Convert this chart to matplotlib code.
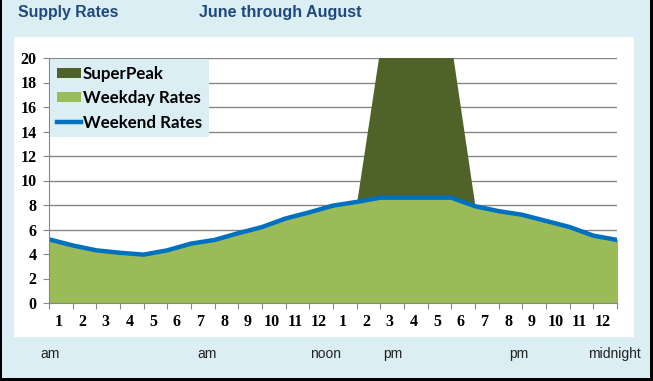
import matplotlib
matplotlib.use('Agg')
import matplotlib.pyplot as plt
from matplotlib.patches import Rectangle, Patch
from matplotlib.lines import Line2D

W, H = 653, 381
BG = '#dbeef4'
NAVY = '#1f497d'

# data: 25 hourly points (start of hour 1 am ... midnight)
hours = list(range(25))
weekday = [5.2, 4.7, 4.3, 4.1, 3.95, 4.3, 4.85, 5.15, 5.7, 6.2, 6.9, 7.4, 7.95,
           8.25, 8.6, 8.6, 8.6, 8.6, 7.9, 7.5, 7.2, 6.7, 6.2, 5.5, 5.15]
weekend = [5.2, 4.7, 4.3, 4.1, 3.95, 4.3, 4.85, 5.15, 5.7, 6.2, 6.9, 7.4, 7.95,
           8.25, 8.6, 8.6, 8.6, 8.6, 7.9, 7.5, 7.2, 6.7, 6.2, 5.5, 5.15]
superpeak = [5.2, 4.7, 4.3, 4.1, 3.95, 4.3, 4.85, 5.15, 5.7, 6.2, 6.9, 7.4, 7.95,
             8.25, 21, 21, 21, 21, 7.9, 7.5, 7.2, 6.7, 6.2, 5.5, 5.15]
hour_labels = [str(h) for h in range(1, 13)] * 2
period_labels = [('am', 50), ('am', 207), ('noon', 326), ('pm', 393), ('pm', 519), ('midnight', 614)]

def fx(px):
    return px / W

def fy(py):
    return 1 - py / H

fig = plt.figure(figsize=(W / 100, H / 100), dpi=100, facecolor=BG)

# white chart panel as a background axes
bg = fig.add_axes([fx(14), fy(337), fx(634) - fx(14), fy(37) - fy(337)], zorder=0)
bg.set_facecolor('white')
bg.set_xticks([]); bg.set_yticks([])
for s in bg.spines.values():
    s.set_visible(False)

# screenshot frame / shadow
fig.patches.append(Rectangle((0, 0), fx(2), 1, transform=fig.transFigure, fc='black', ec='none'))
fig.patches.append(Rectangle((fx(650), 0), fx(3), 1, transform=fig.transFigure, fc='black', ec='none'))
fig.patches.append(Rectangle((0, 0), 1, 3 / H, transform=fig.transFigure, fc='black', ec='none'))

fig.text(fx(18), fy(12), 'Supply Rates', fontsize=11.4, weight='bold', color=NAVY,
         family='Liberation Sans', va='center', ha='left')
fig.text(fx(199), fy(12), 'June through August', fontsize=11.6, weight='bold', color=NAVY,
         family='Liberation Sans', va='center', ha='left')

ax = fig.add_axes([fx(49), fy(303), fx(617) - fx(49), fy(58) - fy(303)], zorder=2)
ax.patch.set_alpha(0)

ax.fill_between(hours, 0, superpeak, color='#4f6228', lw=0, zorder=2)
ax.fill_between(hours, 0, weekday, color='#9bbb59', lw=0, zorder=3)
ax.plot(hours, weekend, color='#0070c0', lw=3.2, zorder=4, solid_joinstyle='round')

ax.set_xlim(0, 24)
ax.set_ylim(0, 20)
ax.set_yticks(range(0, 21, 2))
ax.yaxis.grid(True, color='#868686', lw=1.0)
ax.set_axisbelow(True)
ax.set_xticks(range(25))
ax.set_xticklabels([])
ax.set_xticks([h + 0.4 for h in range(24)], minor=True)
ax.set_xticklabels(hour_labels, minor=True)
ax.tick_params(axis='x', which='major', length=4, color='#868686', direction='out')
ax.tick_params(axis='x', which='minor', length=0, pad=8)
ax.tick_params(axis='y', length=4, color='#868686', pad=5)
for lab in ax.get_xticklabels(minor=True) + ax.get_yticklabels():
    lab.set_fontfamily('Liberation Serif')
    lab.set_fontweight('bold')
    lab.set_fontsize(11.5)
for s in ('top', 'right'):
    ax.spines[s].set_visible(False)
for s in ('left', 'bottom'):
    ax.spines[s].set_color('#868686')
    ax.spines[s].set_zorder(5)

handles = [Patch(fc='#4f6228', ec='none'), Patch(fc='#9bbb59', ec='none'),
           Line2D([], [], color='#0070c0', lw=3.2)]
leg = ax.legend(handles, ['SuperPeak', 'Weekday Rates', 'Weekend Rates'],
                loc='upper left', bbox_to_anchor=(fx(50), fy(59)),
                bbox_transform=fig.transFigure, frameon=True, fancybox=False,
                facecolor=BG, edgecolor='none', framealpha=1,
                prop={'family': 'Lato', 'weight': 'bold', 'size': 12.2},
                handlelength=1.45, handleheight=0.55, handletextpad=0.1,
                labelspacing=0.5, borderpad=0.4, borderaxespad=0)
leg.set_zorder(6)

for txt, px in period_labels:
    fig.text(fx(px), fy(354), txt, fontsize=10, family='Liberation Sans',
             color='#222222', ha='center', va='center')

fig.savefig('out.png', dpi=100, facecolor=BG)
